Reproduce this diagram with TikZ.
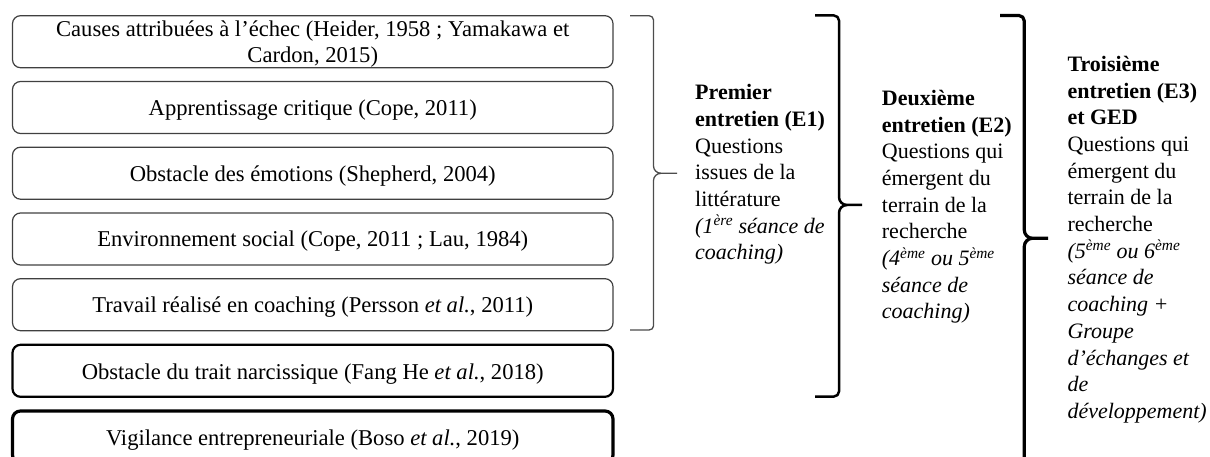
\documentclass[tikz,border=0pt]{standalone}
\usepackage{fontspec}
\setmainfont{Liberation Serif}
\begin{document}
\begin{tikzpicture}[x=1pt,y=-1pt,
  box/.style={draw=black!75, line width=1.2pt, rounded corners=8pt, minimum width=600.5pt, minimum height=52pt, inner sep=0pt},
  boxthick/.style={box, draw=black, line width=2.2pt},
  boxheavy/.style={box, draw=black, line width=3.2pt},
  boxtext/.style={font=\fontsize{22.6}{26.7}\selectfont, align=center, inner sep=0pt},
  sidetext/.style={font=\fontsize{22}{26.7}\selectfont, align=left, inner sep=0pt, anchor=north west},
  brace/.style={line width=1.3pt, draw=black!70, line join=round},
  bracethick/.style={line width=2.5pt, draw=black, line join=round},
  braceheavy/.style={line width=3.2pt, draw=black, line join=round}
]
\useasboundingbox (0,0) rectangle (1210,457);

% boxes
\node[box] (b1) at (312.75,41.7) {};
\node[box] (b2) at (312.75,107.5) {};
\node[box] (b3) at (312.75,173.2) {};
\node[box] (b4) at (312.75,239) {};
\node[box] (b5) at (312.75,304.7) {};
\node[boxthick] (b6) at (312.75,370.8) {};
\node[boxheavy] (b7) at (312.75,437) {};

\node[boxtext] (t1) at ([yshift=-2.5pt]b1.center) {Causes attribuées à l’échec (Heider, 1958 ; Yamakawa et\\Cardon, 2015)};
\node[boxtext] (t2) at ([yshift=-2.5pt]b2.center) {Apprentissage critique (Cope, 2011)};
\node[boxtext] (t3) at ([yshift=-2.5pt]b3.center) {Obstacle des émotions (Shepherd, 2004)};
\node[boxtext] (t4) at ([yshift=-2.5pt]b4.center) {Environnement social (Cope, 2011 ; Lau, 1984)};
\node[boxtext] (t5) at ([yshift=-2.5pt]b5.center) {Travail réalisé en coaching (Persson \textit{et al.}, 2011)};
\node[boxtext] (t6) at ([yshift=-3pt]b6.center) {Obstacle du trait narcissique (Fang He \textit{et al.}, 2018)};
\node[boxtext] (t7) at ([yshift=-3pt]b7.center) {Vigilance entrepreneuriale (Boso \textit{et al.}, 2019)};

% brace 1
\draw[brace] (630,15.7) -- (649,15.7) to[out=0,in=90] (653.5,20) -- (653.5,166)
  to[out=-90,in=180] (661,173.3) -- (677,173.3);
\draw[brace] (661,173.3) to[out=180,in=90] (653.5,180.5) -- (653.5,326)
  to[out=-90,in=0] (649,330) -- (630,330);

% brace 2
\draw[bracethick] (815,15.5) -- (834,15.5) to[out=0,in=90] (839,20.5) -- (839,197)
  to[out=-90,in=180] (847,205) -- (862,205);
\draw[bracethick] (847,205) to[out=180,in=90] (839,213) -- (839,391.5)
  to[out=-90,in=0] (834,396.5) -- (815,396.5);

% brace 3
\draw[braceheavy] (1000,15.5) -- (1019,15.5) to[out=0,in=90] (1024.3,21) -- (1024.3,230)
  to[out=-90,in=180] (1032.5,238.3) -- (1048,238.3);
\draw[braceheavy] (1032.5,238.3) to[out=180,in=90] (1024.3,246.5) -- (1024.3,480);

% side texts (first baseline = top + 18.7)
\node[sidetext] (e1) at (695,80.8) {\strut\textbf{Premier}\\\textbf{entretien (E1)}\\Questions\\issues de la\\littérature\\\textit{(1\textsuperscript{ère} séance de}\\\textit{coaching)}};
\node[sidetext] (e2) at (881.7,86.5) {\strut\textbf{Deuxième}\\\textbf{entretien (E2)}\\Questions qui\\émergent du\\terrain de la\\recherche\\\textit{(4\textsuperscript{ème} ou 5\textsuperscript{ème}}\\\textit{séance de}\\\textit{coaching)}};
\node[sidetext] (e3) at (1067.3,52.5) {\strut\textbf{Troisième}\\\textbf{entretien (E3)}\\\textbf{et GED}\\Questions qui\\émergent du\\terrain de la\\recherche\\\textit{(5\textsuperscript{ème} ou 6\textsuperscript{ème}}\\\textit{séance de}\\\textit{coaching +}\\\textit{Groupe}\\\textit{d’échanges et}\\\textit{de}\\\textit{développement)}};
\end{tikzpicture}
\end{document}
